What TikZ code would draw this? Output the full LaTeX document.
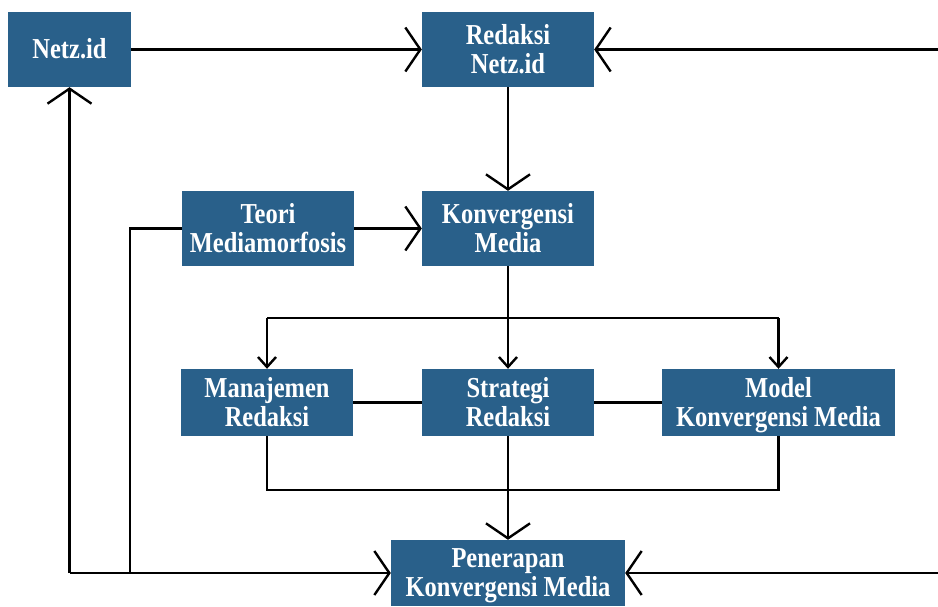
\documentclass[tikz,border=0pt]{standalone}
\usepackage{fontspec}
\usepackage{graphicx}
\setmainfont{Liberation Serif}
\usetikzlibrary{arrows.meta,calc}
\definecolor{boxblue}{RGB}{41,96,138}
\newcommand{\boxtxt}[1]{\raisebox{-3.5pt}[\height][\depth]{\scalebox{1}[1.18]{\begin{tabular}{@{}c@{}}#1\end{tabular}}}}
\begin{document}
\begin{tikzpicture}[x=1pt,y=-1pt,
  blk/.style={fill=boxblue, draw=none, text=white, align=center,
    font=\fontsize{24.5}{23}\selectfont\bfseries, inner sep=0pt},
  conn/.style={line width=2.4pt, draw=black},
  bigarr/.style={conn, -{Straight Barb[length=15pt,width=44pt,line width=2.4pt]}},
  smallarr/.style={conn, -{Straight Barb[length=10pt,width=18pt,line width=2.4pt]}}]
\useasboundingbox (0,0) rectangle (938,606);
\fill[white] (0,0) rectangle (938,606);
\node[blk, minimum width=123pt, minimum height=75pt] (netz) at (69.5,49.5) {\boxtxt{Netz.id}};
\node[blk, minimum width=172pt, minimum height=75pt] (red) at (508,49.5) {\boxtxt{Redaksi\\Netz.id}};
\node[blk, minimum width=172pt, minimum height=75pt] (konv) at (508,228.5) {\boxtxt{Konvergensi\\Media}};
\node[blk, minimum width=172pt, minimum height=75pt] (teori) at (268,228.5) {\boxtxt{Teori\\Mediamorfosis}};
\node[blk, minimum width=172pt, minimum height=67pt] (man) at (267,402.5) {\boxtxt{Manajemen\\Redaksi}};
\node[blk, minimum width=172pt, minimum height=67pt] (strat) at (508,402.5) {\boxtxt{Strategi\\Redaksi}};
\node[blk, minimum width=233pt, minimum height=67pt] (model) at (778.5,402.5) {\boxtxt{Model\\Konvergensi Media}};
\node[blk, minimum width=234pt, minimum height=66pt] (pen) at (508,573) {\boxtxt{Penerapan\\Konvergensi Media}};
\coordinate (rtop) at (940,49.5);
\coordinate (rbot) at (940,573);
\coordinate (split) at (508,318);
\coordinate (merge) at (508,490);
\coordinate (bl) at (69.5,573);
\coordinate (tbend) at (130,573);
% top
\draw[bigarr] (netz.east) -- (red.west);
\draw[bigarr] (rtop) -- (red.east);
\draw[bigarr] (red.south) -- (konv.north);
\draw[bigarr] (teori.east) -- (konv.west);
% split
\draw[conn] (konv.south) -- (split);
\draw[conn] (split -| man) -- (split -| model);
\draw[smallarr] (split) -- (strat.north);
\draw[smallarr] (split -| man) -- (man.north);
\draw[smallarr] (split -| model) -- (model.north);
% horizontal links
\draw[conn] (man.east) -- (strat.west);
\draw[conn] (strat.east) -- (model.west);
% merge
\draw[conn] (man.south) |- (merge) -| (model.south);
\draw[bigarr] (strat.south) -- (pen.north);
% left loop
\draw[conn] (teori.west) -| (tbend);
\draw[bigarr] (bl) -- (pen.west);
\draw[bigarr] (bl) -- (netz.south);
\draw[bigarr] (rbot) -- (pen.east);
\end{tikzpicture}
\end{document}
